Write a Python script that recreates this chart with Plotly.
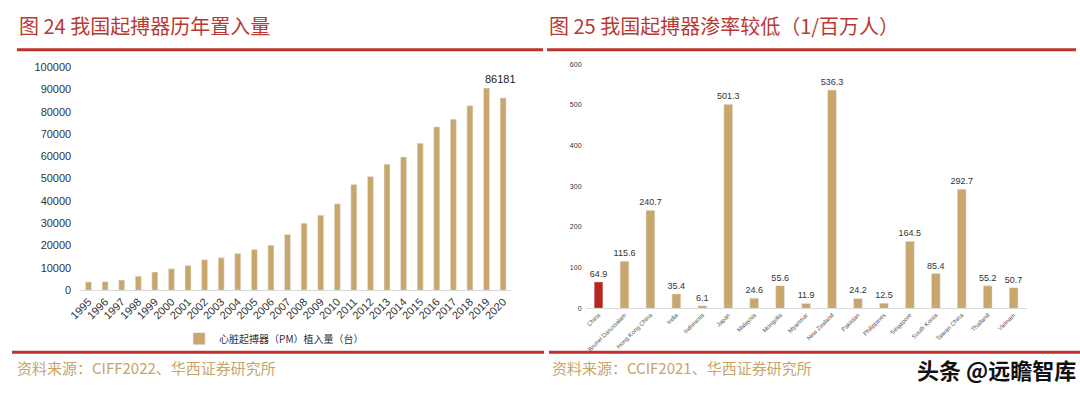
import plotly.graph_objects as go

# ---------------- data ----------------
years = [str(y) for y in range(1995, 2021)]
pm_implants = [3650, 3800, 4500, 6250, 8100, 9550, 11000, 13650, 14500, 16400,
               18250, 20100, 25000, 30000, 33600, 38700, 47400, 50900, 56500,
               59700, 65900, 73200, 76650, 82700, 90600, 86181]
left_yticks = [0, 10000, 20000, 30000, 40000, 50000, 60000, 70000, 80000, 90000, 100000]

countries = ["China", "Brunei Darussalam", "Hong Kong China", "India", "Indonesia",
             "Japan", "Malaysia", "Mongolia", "Myanmar", "New Zealand", "Pakistan",
             "Philippines", "Singapore", "South Korea", "Taiwan China", "Thailand", "Vietnam"]
rates = [64.9, 115.6, 240.7, 35.4, 6.1, 501.3, 24.6, 55.6, 11.9, 536.3, 24.2,
         12.5, 164.5, 85.4, 292.7, 55.2, 50.7]
right_yticks = [0, 100, 200, 300, 400, 500, 600]

TAN = "#c9a66b"
RED = "#b8261f"
TITLE_RED = "#b83a32"
LINE_RED = "#c0322b"
CJK = "Noto Sans CJK SC"

W, H = 1080, 397

def px(x):
    return x / W

def py(y):
    return 1 - y / H

fig = go.Figure()

fig.add_trace(go.Bar(
    x=years, y=pm_implants, marker_color=TAN, width=0.36,
    name="心脏起搏器（PM）植入量（台）", xaxis="x", yaxis="y", showlegend=True,
))

fig.add_trace(go.Bar(
    x=countries, y=rates,
    marker_color=[RED if c == "China" else TAN for c in countries],
    width=0.34, xaxis="x2", yaxis="y2", showlegend=False,
    text=[f"{v:.1f}" for v in rates], textposition="outside",
    constraintext="none",
    textfont=dict(size=9, color="#333333", family="Liberation Sans"),
    cliponaxis=False,
))

fig.update_layout(
    width=W, height=H,
    margin=dict(l=0, r=0, t=0, b=0),
    paper_bgcolor="white", plot_bgcolor="white",
    font=dict(family="Liberation Sans", color="#333333"),
    xaxis=dict(domain=[px(69), px(505)], anchor="y", type="category",
               tickangle=-45, tickfont=dict(size=11, color="#333333"),
               showgrid=False, showline=True, linecolor="#d9d9d9", linewidth=1,
               ticks="", range=[-0.5, 25.5]),
    yaxis=dict(domain=[py(293), py(63)], anchor="x", range=[0, 100000],
               tickvals=left_yticks, tickformat="d", ticklabelstandoff=8,
               tickfont=dict(size=11, color="#333333"),
               showgrid=False, showline=False, zeroline=False, ticks=""),
    xaxis2=dict(domain=[px(580), px(1026)], anchor="y2", type="category",
                tickangle=-45, tickfont=dict(size=6, color="#555555"),
                showgrid=False, showline=True, linecolor="#d9d9d9", linewidth=1,
                ticks="", range=[-0.5, 16.5]),
    yaxis2=dict(domain=[py(311.7), py(60)], anchor="x2", range=[0, 600],
                tickvals=right_yticks, ticklabelstandoff=3,
                tickfont=dict(size=7, color="#333333"),
                showgrid=False, showline=False, zeroline=False, ticks=""),
    legend=dict(orientation="h", x=px(265), y=py(343), xanchor="center", yanchor="middle",
                font=dict(size=10, family=CJK, color="#333333"),
                itemwidth=30, bgcolor="rgba(0,0,0,0)"),
    bargap=0.6,
    showlegend=True,
)

# data label for the last year (category index of last bar)
fig.add_annotation(x=len(years) - 1, y=pm_implants[-2], xref="x", yref="y",
                   text=f"{pm_implants[-1]}", showarrow=False, yanchor="bottom",
                   xanchor="center", xshift=-3, yshift=1,
                   font=dict(size=11, color="#222222"))

# titles
fig.add_annotation(x=px(5), y=py(20), xref="paper", yref="paper", xanchor="left",
                   yanchor="middle", showarrow=False, text="图 24 我国起搏器历年置入量",
                   font=dict(size=20, family=CJK, color=TITLE_RED))
fig.add_annotation(x=px(541), y=py(20), xref="paper", yref="paper", xanchor="left",
                   yanchor="middle", showarrow=False, text="图 25 我国起搏器渗率较低（1/百万人）",
                   font=dict(size=20, family=CJK, color=TITLE_RED))

# footers
fig.add_annotation(x=px(3), y=py(373), xref="paper", yref="paper", xanchor="left",
                   yanchor="middle", showarrow=False, text="资料来源：CIFF2022、华西证券研究所",
                   font=dict(size=15, family=CJK, color="#c8a468"))
fig.add_annotation(x=px(544), y=py(373), xref="paper", yref="paper", xanchor="left",
                   yanchor="middle", showarrow=False, text="资料来源：CCIF2021、华西证券研究所",
                   font=dict(size=15, family=CJK, color="#c8a468"))
fig.add_annotation(x=px(1078), y=py(374), xref="paper", yref="paper", xanchor="right",
                   yanchor="middle", showarrow=False, text="<b>头条 @远瞻智库</b>",
                   font=dict(size=22, family=CJK, color="#111111"))

# red rules
for x0, x1 in [(5, 537), (541, 1076)]:
    fig.add_shape(type="line", xref="paper", yref="paper", x0=px(x0), x1=px(x1),
                  y0=py(45), y1=py(45), line=dict(color=LINE_RED, width=3))
for x0, x1 in [(0, 538), (543, 1080)]:
    fig.add_shape(type="line", xref="paper", yref="paper", x0=px(x0), x1=px(x1),
                  y0=py(357), y1=py(357), line=dict(color=LINE_RED, width=3))

fig.write_html("out.html", config={"displayModeBar": False},
               post_script="document.body.style.margin='0';document.body.style.overflow='hidden';")
